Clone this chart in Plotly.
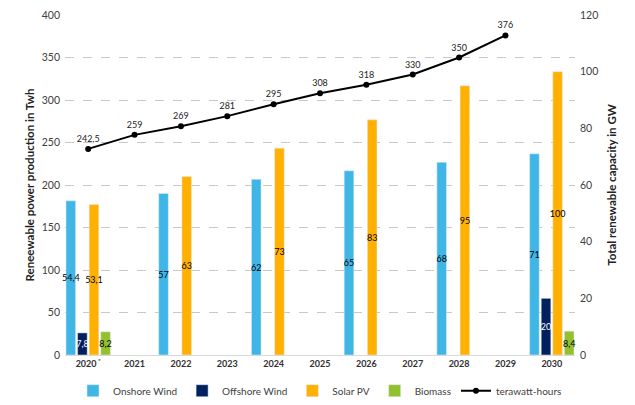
import plotly.graph_objects as go

years = [2020, 2021, 2022, 2023, 2024, 2025, 2026, 2027, 2028, 2029, 2030]
year_labels = ["2020<sup> *</sup>", "2021", "2022", "2023", "2024", "2025",
               "2026", "2027", "2028", "2029", "2030"]

onshore = [54.4, None, 57, None, 62, None, 65, None, 68, None, 71]
offshore = [7.8, None, None, None, None, None, None, None, None, None, 20]
solar = [53.1, None, 63, None, 73, None, 83, None, 95, None, 100]
biomass = [8.2, None, None, None, None, None, None, None, None, None, 8.4]

line_years = [2020, 2021, 2022, 2023, 2024, 2025, 2026, 2027, 2028, 2029]
twh = [242.5, 259, 269, 281, 295, 308, 318, 330, 350, 376]

FONT = "Lato"


def fmt(v):
    if v is None:
        return None
    if float(v).is_integer():
        return str(int(v))
    return str(v).replace(".", ",")


fig = go.Figure()

series = [
    ("Onshore Wind", onshore, "#3FB6E6", "black"),
    ("Offshore Wind", offshore, "#002060", "white"),
    ("Solar PV", solar, "#FFB000", "black"),
    ("Biomass", biomass, "#92C02E", "black"),
]
for name, vals, color, tcolor in series:
    fig.add_trace(go.Bar(
        x=years, y=vals, name=name, marker_color=color, yaxis="y2",
        text=[fmt(v) for v in vals], textposition="inside",
        insidetextanchor="middle", textangle=0,
        insidetextfont=dict(color=tcolor, size=9, family=FONT),
        cliponaxis=False,
    ))

fig.add_trace(go.Scatter(
    x=line_years, y=twh, name="terawatt-hours", mode="lines+markers+text",
    line=dict(color="black", width=2), marker=dict(color="black", size=6),
    text=[fmt(v) for v in twh], textposition="top center",
    textfont=dict(size=9, color="#222222", family=FONT),
    yaxis="y",
))

grid = dict(showgrid=True, gridcolor="#C8C8C8", griddash="dash", gridwidth=1)

fig.update_layout(
    width=627, height=397,
    margin=dict(l=57, r=60, t=7, b=50, autoexpand=False),
    paper_bgcolor="white", plot_bgcolor="white",
    font=dict(family=FONT, color="#404040", size=10),
    barmode="group", bargap=0.0, bargroupgap=0.17,
    uniformtext=dict(minsize=9, mode="show"),
    showlegend=True,
    legend=dict(orientation="h", x=0.5, xanchor="center", y=-0.105,
                yanchor="middle", font=dict(size=10, color="#404040"),
                traceorder="normal", itemwidth=30),
    xaxis=dict(
        range=[2019.5, 2030.5], tickvals=years, ticktext=year_labels,
        tickfont=dict(size=9, color="#303030", weight="bold"),
        showline=True, linecolor="#D9D9D9", ticks="", showgrid=False,
        zeroline=False, automargin=False,
    ),
    yaxis=dict(
        range=[0, 400], dtick=50, **grid, zeroline=False, automargin=False,
        tickfont=dict(size=10.5, color="#404040"), ticklabelstandoff=4,
        title=dict(text="<b>Reneewable power production in Twh</b>",
                   font=dict(size=11.5, color="#222222"), standoff=4),
    ),
    yaxis2=dict(
        range=[0, 120], dtick=20, overlaying="y", side="right",
        showgrid=False, zeroline=False, automargin=False,
        tickfont=dict(size=10.5, color="#404040"), ticklabelstandoff=4,
        title=dict(text="<b>Total renewable capacity in GW</b>",
                   font=dict(size=11.5, color="#222222"), standoff=10),
    ),
)

fig.write_html("out.html")
